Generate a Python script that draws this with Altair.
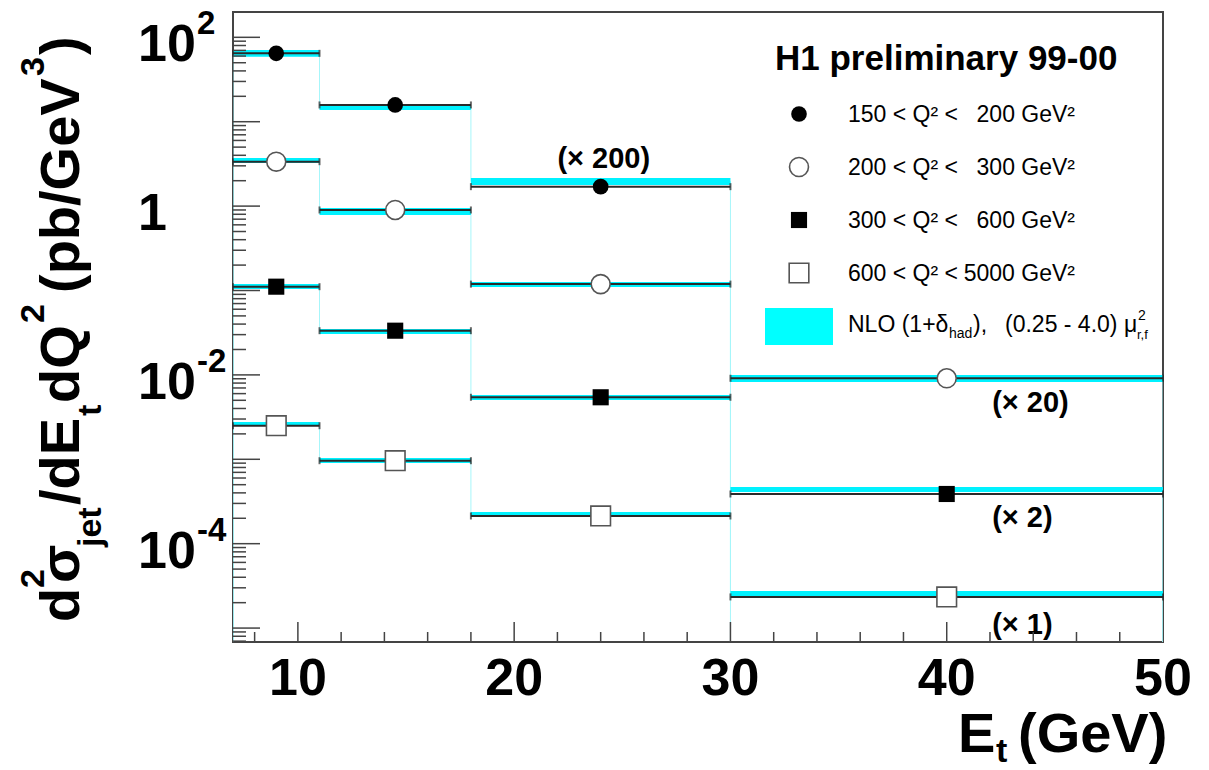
import altair as alt
import pandas as pd

FONT = "Liberation Sans"

# ---------------- data ----------------
bin_lo = [7, 11, 18, 30]
bin_hi = [11, 18, 30, 50]
bin_mid = [9, 14.5, 24, 40]

series_keys = ["s1", "s2", "s3", "s4"]
legend_left = ["150 < Q² <", "200 < Q² <", "300 < Q² <", "600 < Q² <"]
legend_right = ["200 GeV²", "300 GeV²", "600 GeV²", "5000 GeV²"]

# measured cross sections (already multiplied by the factor shown)
data_s1 = [64.6, 15.8, 1.70]
data_s2 = [3.36, 0.90, 0.119, 0.00912]
data_s3 = [0.111, 0.0334, 0.00543, 3.88e-4]
data_s4 = [2.50e-3, 9.62e-4, 2.13e-4, 2.34e-5]

# NLO (1+delta_had) band, scale variation
nlo_lo_s1 = [58.9, 13.8, 1.78]
nlo_hi_s1 = [70.8, 16.2, 2.15]
nlo_lo_s2 = [3.24, 0.784, 0.110, 0.00822]
nlo_hi_s2 = [3.72, 0.950, 0.126, 0.00995]
nlo_lo_s3 = [0.104, 0.0305, 0.00505, 4.10e-4]
nlo_hi_s3 = [0.119, 0.0350, 0.00578, 4.70e-4]
nlo_lo_s4 = [2.55e-3, 9.03e-4, 2.07e-4, 2.40e-5]
nlo_hi_s4 = [2.77e-3, 1.035e-3, 2.38e-4, 2.75e-5]

# scale factor annotations
factor_text = ["(× 200)", "(× 20)", "(× 2)", "(× 1)"]
factor_x = [22.0, 42.1, 42.1, 42.1]
factor_y = [2.83, 0.00363, 1.58e-4, 8.5e-6]

# axes
x_tick_values = [10, 20, 30, 40, 50]
x_tick_labels = ["10", "20", "30", "40", "50"]
x_major_ticks = [10, 20, 30, 40]
x_minor_ticks = [8, 12, 14, 16, 18, 22, 24, 26, 28, 32, 34, 36, 38, 42, 44, 46, 48]
y_label_values = [100, 1, 0.01, 0.0001]
y_label_base = ["10", "1", "10", "10"]
y_label_exp = ["2", "", "-2", "-4"]
YMIN, YMAX = 10 ** -5.165, 10 ** 2.3
y_major_ticks = [1e-5, 1e-4, 1e-3, 1e-2, 1e-1, 1, 10, 100]
y_minor_ticks = [m * d for d in [1e-6, 1e-5, 1e-4, 1e-3, 1e-2, 1e-1, 1, 10, 100]
                 for m in range(2, 10) if YMIN <= m * d <= YMAX]

# ---------------- tables ----------------
all_data = {"s1": data_s1, "s2": data_s2, "s3": data_s3, "s4": data_s4}
all_lo = {"s1": nlo_lo_s1, "s2": nlo_lo_s2, "s3": nlo_lo_s3, "s4": nlo_lo_s4}
all_hi = {"s1": nlo_hi_s1, "s2": nlo_hi_s2, "s3": nlo_hi_s3, "s4": nlo_hi_s4}

rows, step_rows, serif_rows = [], [], []
for s in series_keys:
    vals = all_data[s]
    n = len(vals)
    order = 0
    step_rows.append(dict(series=s, o=order, x=bin_lo[0], y=YMIN)); order += 1
    for i in range(n):
        cen = (all_lo[s][i] * all_hi[s][i]) ** 0.5
        rows.append(dict(series=s, lo=bin_lo[i], hi=bin_hi[i], mid=bin_mid[i],
                         val=vals[i], nlo=all_lo[s][i], nhi=all_hi[s][i]))
        serif_rows.append(dict(series=s, x=bin_lo[i], y=vals[i]))
        serif_rows.append(dict(series=s, x=bin_hi[i], y=vals[i]))
        step_rows.append(dict(series=s, o=order, x=bin_lo[i], y=cen)); order += 1
        step_rows.append(dict(series=s, o=order, x=bin_hi[i], y=cen)); order += 1
    step_rows.append(dict(series=s, o=order, x=bin_hi[n - 1], y=YMIN))

df = pd.DataFrame(rows)
df_step = pd.DataFrame(step_rows)
df_serif = pd.DataFrame(serif_rows)

xs = alt.Scale(domain=[7, 50], nice=False, zero=False)
ys = alt.Scale(type="log", domain=[YMIN, YMAX], nice=False)

one = alt.Data(values=[{"a": 1}])

layers = []

# theory histogram outline (thin cyan)
layers.append(alt.Chart(df_step).mark_line(color="#a6f6fa", strokeWidth=1, clip=True).encode(
    x=alt.X("x:Q", scale=xs, axis=None),
    y=alt.Y("y:Q", scale=ys, axis=None),
    detail="series:N", order="o:Q"))

# NLO bands
layers.append(alt.Chart(df).mark_rect(color="#00f2ff").encode(
    x=alt.X("lo:Q", scale=xs, axis=None), x2="hi:Q",
    y=alt.Y("nlo:Q", scale=ys, axis=None), y2="nhi:Q"))

# horizontal data bars (bin widths)
layers.append(alt.Chart(df).mark_rule(color="#2a2a2a", strokeWidth=2).encode(
    x=alt.X("lo:Q", scale=xs, axis=None), x2="hi:Q",
    y=alt.Y("val:Q", scale=ys, axis=None)))
layers.append(alt.Chart(df_serif).mark_tick(orient="vertical", color="#2a2a2a",
                                            size=7, thickness=2).encode(
    x=alt.X("x:Q", scale=xs, axis=None),
    y=alt.Y("y:Q", scale=ys, axis=None)))

# markers
marker_style = {
    "s1": dict(shape="circle", filled=True, fill="black", size=245, strokeWidth=0),
    "s2": dict(shape="circle", filled=True, fill="white", stroke="#555", strokeWidth=1.6, size=360),
    "s3": dict(shape="square", filled=True, fill="black", size=260, strokeWidth=0),
    "s4": dict(shape="square", filled=True, fill="white", stroke="#555", strokeWidth=1.6, size=385),
}
for s in series_keys:
    layers.append(alt.Chart(df[df.series == s]).mark_point(opacity=1, **marker_style[s]).encode(
        x=alt.X("mid:Q", scale=xs, axis=None),
        y=alt.Y("val:Q", scale=ys, axis=None)))

# scale-factor annotations
df_fac = pd.DataFrame(dict(t=factor_text, x=factor_x, y=factor_y))
layers.append(alt.Chart(df_fac).mark_text(font=FONT, fontSize=29, fontWeight="bold",
                                          align="left", baseline="alphabetic", color="black").encode(
    x=alt.X("x:Q", scale=xs, axis=None), y=alt.Y("y:Q", scale=ys, axis=None), text="t:N"))

# inward ticks
TC = "#444"
layers.append(alt.Chart(pd.DataFrame(dict(v=y_major_ticks))).mark_rule(color=TC, strokeWidth=1.5).encode(
    y=alt.Y("v:Q", scale=ys, axis=None), x=alt.value(0), x2=alt.value(27)))
layers.append(alt.Chart(pd.DataFrame(dict(v=y_minor_ticks))).mark_rule(color=TC, strokeWidth=1.5).encode(
    y=alt.Y("v:Q", scale=ys, axis=None), x=alt.value(0), x2=alt.value(13)))
layers.append(alt.Chart(pd.DataFrame(dict(v=x_major_ticks))).mark_rule(color=TC, strokeWidth=1.5).encode(
    x=alt.X("v:Q", scale=xs, axis=None), y=alt.value(630), y2=alt.value(610)))
layers.append(alt.Chart(pd.DataFrame(dict(v=x_minor_ticks))).mark_rule(color=TC, strokeWidth=1.5).encode(
    x=alt.X("v:Q", scale=xs, axis=None), y=alt.value(630), y2=alt.value(620)))

# tick labels
df_xl = pd.DataFrame(dict(v=x_tick_values, t=x_tick_labels))
layers.append(alt.Chart(df_xl).mark_text(font=FONT, fontSize=52, fontWeight="bold", align="center",
                                         baseline="alphabetic", color="black").encode(
    x=alt.X("v:Q", scale=xs, axis=None), y=alt.value(683), text="t:N"))
df_yl = pd.DataFrame(dict(v=y_label_values, b=y_label_base, e=y_label_exp))
layers.append(alt.Chart(df_yl).mark_text(font=FONT, fontSize=52, fontWeight="bold", align="left",
                                         baseline="alphabetic", color="black", dy=24).encode(
    y=alt.Y("v:Q", scale=ys, axis=None), x=alt.value(-95), text="b:N"))
df_exp = df_yl[df_yl.e != ""]
layers.append(alt.Chart(df_exp).mark_text(font=FONT, fontSize=33, fontWeight="bold", align="left",
                                          baseline="alphabetic", color="black", dy=-3).encode(
    y=alt.Y("v:Q", scale=ys, axis=None), x=alt.value(-36), text="e:N"))


def txt(s, px, py, size, weight="normal", angle=0, align="left"):
    kw = dict(text=s, font=FONT, fontSize=size, fontWeight=weight, align=align,
              baseline="alphabetic", color="black")
    if angle:
        kw["angle"] = angle
    return alt.Chart(one).mark_text(**kw).encode(x=alt.value(px), y=alt.value(py))


# y-axis title (rotated)
BX, SUPX, SUBX = -154, -189, -132
ytitle = [("d", BX, 610, 56), ("2", SUPX, 576, 34), ("σ", BX, 571, 56), ("jet", SUBX, 535, 34),
          ("/dE", BX, 493, 56), ("t", SUBX, 404, 34), ("dQ", BX, 391, 56), ("2", SUPX, 311, 34),
          ("(pb/GeV", BX, 281, 56), ("3", SUPX, 64, 34), (")", BX, 43, 56)]
for s, px, py, fs in ytitle:
    layers.append(txt(s, px, py, fs, "bold", angle=270))

# x-axis title
layers.append(txt("E", 725, 740, 56, "bold"))
layers.append(txt("t", 763, 750, 34, "bold"))
layers.append(txt("(GeV)", 785, 740, 56, "bold"))

# legend
layers.append(txt("H1 preliminary 99-00", 542, 58, 35, "bold"))
leg_y = [102, 155, 208, 261]
for i, s in enumerate(series_keys):
    st = dict(marker_style[s])
    layers.append(alt.Chart(one).mark_point(opacity=1, **st).encode(
        x=alt.value(566), y=alt.value(leg_y[i])))
    layers.append(txt(legend_left[i], 615, leg_y[i] + 8, 23))
    layers.append(txt(legend_right[i], 842, leg_y[i] + 8, 23, align="right"))
layers.append(alt.Chart(one).mark_rect(color="#00ffff").encode(
    x=alt.value(532), x2=alt.value(600), y=alt.value(296), y2=alt.value(333)))
layers.append(txt("NLO (1+δ", 615, 320, 23))
layers.append(txt("had", 716, 326, 14))
layers.append(txt("),", 740, 320, 23))
layers.append(txt("(0.25 - 4.0) μ", 772, 320, 23))
layers.append(txt("2", 905, 308, 14))
layers.append(txt("r,f", 904, 327, 13))

chart = alt.layer(*layers).properties(
    width=930, height=630,
    padding={"left": 233, "top": 12, "right": 46, "bottom": 128},
    autosize=alt.AutoSizeParams(type="none"),
    background="white",
).configure_view(stroke="#444", strokeWidth=2)

chart.save("out.html", embed_options={"renderer": "svg", "actions": False})
